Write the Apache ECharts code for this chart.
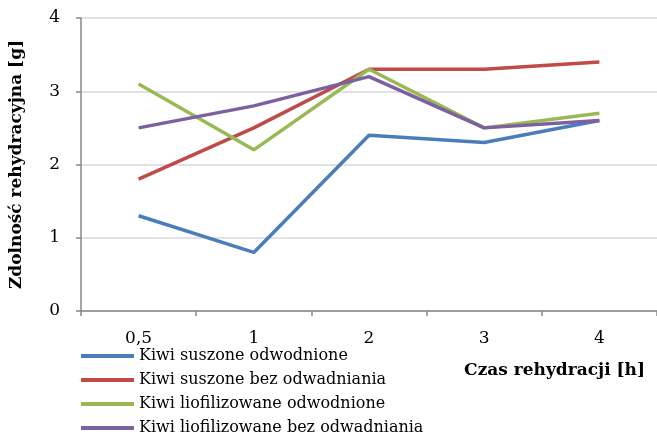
<!DOCTYPE html>
<html>
<head>
<meta charset="utf-8">
<script src="https://cdn.jsdelivr.net/npm/echarts@6/dist/echarts.min.js"></script>
<style>
  html, body { margin: 0; padding: 0; background: #fff; }
  #chart { width: 657px; height: 445px; }
</style>
</head>
<body>
<div id="chart"></div>
<script>
    // czas rehydracji [h]
    const categories = ['0,5', '1', '2', '3', '4'];
    const suszoneOdwodnione = [1.3, 0.8, 2.4, 2.3, 2.6];
    const suszoneBezOdwadniania = [1.8, 2.5, 3.3, 3.3, 3.4];
    const liofOdwodnione = [3.1, 2.2, 3.3, 2.5, 2.7];
    const liofBezOdwadniania = [2.5, 2.8, 3.2, 2.5, 2.6];

    const seriesNames = [
        'Kiwi suszone odwodnione',
        'Kiwi suszone bez odwadniania',
        'Kiwi liofilizowane odwodnione',
        'Kiwi liofilizowane bez odwadniania'
    ];
    const seriesData = [suszoneOdwodnione, suszoneBezOdwadniania, liofOdwodnione, liofBezOdwadniania];
    const colors = ['#4a7ebb', '#be4b48', '#98b954', '#7d60a0'];
    const font = '"DejaVu Serif", "Liberation Serif", serif';

    const chart = echarts.init(document.getElementById('chart'));

    const series = seriesNames.map((name, i) => {
        return {
            name,
            type: 'line',
            data: seriesData[i],
            symbol: 'none',
            lineStyle: { width: 3.5, color: colors[i] },
            itemStyle: { color: colors[i] }
        }
    });

    const option = {
        animation: false,
        grid: { left: 81, right: 0, top: 18, bottom: 134 },
        legend: {
            orient: 'vertical',
            left: 81,
            top: 346,
            padding: 0,
            icon: 'rect',
            itemWidth: 53,
            itemHeight: 4,
            itemGap: 4,
            data: seriesNames,
            textStyle: { fontFamily: font, fontSize: 16, color: '#000', lineHeight: 20, padding: [0, 0, 0, 0] }
        },
        xAxis: {
            type: 'category',
            data: categories,
            boundaryGap: true,
            axisLine: { lineStyle: { color: '#888', width: 1.5 } },
            axisTick: { show: true, length: 5, lineStyle: { color: '#888', width: 1.5 } },
            axisLabel: { color: '#000', fontFamily: font, fontSize: 17, margin: 19 }
        },
        yAxis: {
            type: 'value',
            min: 0,
            max: 4,
            interval: 1,
            name: 'Zdolność rehydracyjna [g]',
            nameLocation: 'middle',
            nameGap: 56,
            nameTextStyle: { fontFamily: font, fontSize: 17, fontWeight: 'bold', color: '#000' },
            axisLine: { show: true, lineStyle: { color: '#888', width: 1.5 } },
            axisTick: { show: true, length: 5, lineStyle: { color: '#888', width: 1.5 } },
            axisLabel: { color: '#000', fontFamily: font, fontSize: 17, margin: 21 },
            splitLine: { lineStyle: { color: '#d9d9d9', width: 1.5 } }
        },
        graphic: [{
            type: 'text',
            right: 12,
            top: 362,
            style: {
                text: 'Czas rehydracji [h]',
                fontFamily: font,
                fontSize: 17,
                fontWeight: 'bold',
                fill: '#000'
            }
        }],
        series
    };
    chart.setOption(option);
</script>
</body>
</html>
